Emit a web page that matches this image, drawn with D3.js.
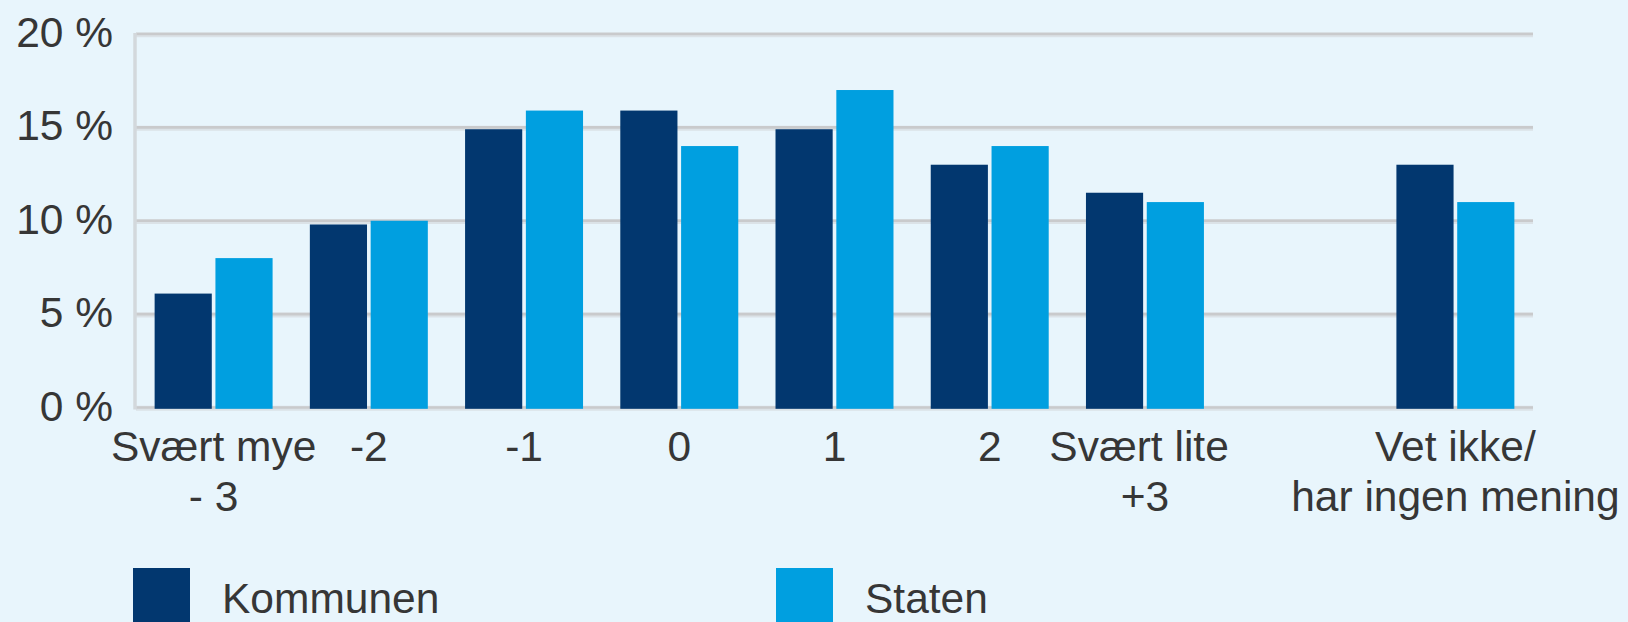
<!DOCTYPE html>
<html>
<head>
<meta charset="utf-8">
<script src="https://cdn.jsdelivr.net/npm/d3@7"></script>
<style>
  html, body { margin: 0; padding: 0; background: #e8f5fc; }
  svg { display: block; }
  text { font-family: "Liberation Sans", Arial, Helvetica, sans-serif; fill: #363636; white-space: pre; }
</style>
</head>
<body>
<svg id="chart" width="1628" height="622"></svg>
<script>
// Answer categories (the empty slot separates "Vet ikke" from the scale)
const categories = ["Svært mye\n- 3", "-2", "-1", "0", "1", "2", "Svært lite \n+3", "", "Vet ikke/\nhar ingen mening"];
const seriesNames = ["Kommunen", "Staten"];
const kommunen = [6.1, 9.8, 14.9, 15.9, 14.9, 13, 11.5, null, 13];
const staten   = [8, 10, 15.9, 14, 17, 14, 11, null, 11];
const yTicks = [0, 5, 10, 15, 20];

const colors = { Kommunen: "#02376f", Staten: "#009fe0" };

const svg = d3.select("#chart");
const W = 1628, H = 622;
svg.append("rect").attr("width", W).attr("height", H).attr("fill", "#e8f5fc");

const plot = { left: 136, right: 1533, top: 34, bottom: 407.5 };

const x0 = d3.scaleBand().domain(d3.range(categories.length))
  .range([plot.left, plot.right]).paddingInner(0.24).paddingOuter(0.12);
const x1 = d3.scaleBand().domain(seriesNames)
  .range([0, x0.bandwidth()]).paddingInner(0.06).paddingOuter(0);
const y = d3.scaleLinear().domain([0, 20]).range([plot.bottom, plot.top]);

// Horizontal gridlines
const grid = svg.append("g");
grid.selectAll("line.halo").data(yTicks).join("line")
  .attr("class", "halo")
  .attr("x1", plot.left).attr("x2", plot.right)
  .attr("y1", d => y(d) + 0.8).attr("y2", d => y(d) + 0.8)
  .attr("stroke", "#dbe2e7").attr("stroke-width", 5);
grid.selectAll("line.main").data(yTicks).join("line")
  .attr("class", "main")
  .attr("x1", plot.left).attr("x2", plot.right)
  .attr("y1", d => y(d)).attr("y2", d => y(d))
  .attr("stroke", "#c9cacc").attr("stroke-width", 2.6);

// Vertical axis line
svg.append("line")
  .attr("x1", 135).attr("x2", 135)
  .attr("y1", y(20) - 1).attr("y2", y(0) + 2)
  .attr("stroke", "#d3d8dc").attr("stroke-width", 3.5);

// Y tick labels
svg.append("g").selectAll("text").data(yTicks).join("text")
  .attr("x", 113).attr("y", d => y(d) + 13)
  .attr("text-anchor", "end")
  .attr("font-size", 42.5)
  .text(d => d + " %");

// Bars
const rows = categories.map((c, i) => ({ i, Kommunen: kommunen[i], Staten: staten[i] }));
const groups = svg.append("g").selectAll("g").data(rows).join("g")
  .attr("transform", d => `translate(${x0(d.i)},0)`);
groups.selectAll("rect")
  .data(d => seriesNames.filter(k => d[k] != null).map(k => ({ key: k, value: d[k] })))
  .join("rect")
  .attr("x", d => x1(d.key))
  .attr("width", x1.bandwidth())
  .attr("y", d => y(d.value))
  .attr("height", d => y(0) - y(d.value) + 1.3)
  .attr("fill", d => colors[d.key]);

// Category labels
const xl = svg.append("g").selectAll("text").data(categories).join("text")
  .attr("text-anchor", "middle")
  .attr("font-size", 42.5);
xl.each(function (c, i) {
  const lines = c.split("\n");
  const t = d3.select(this);
  lines.forEach((ln, k) => {
    t.append("tspan")
      .attr("x", x0(i) + x0.bandwidth() / 2)
      .attr("y", 461 + k * 50)
      .text(ln);
  });
});

// Legend
const legendX = [133, 776];
const legend = svg.append("g").selectAll("g").data(seriesNames).join("g")
  .attr("transform", (d, i) => `translate(${legendX[i]},568)`);
legend.append("rect")
  .attr("width", 57).attr("height", 60)
  .attr("fill", d => colors[d]);
legend.append("text")
  .attr("x", 89).attr("y", 44.5)
  .attr("font-size", 42.5)
  .text(d => d);
</script>
</body>
</html>
